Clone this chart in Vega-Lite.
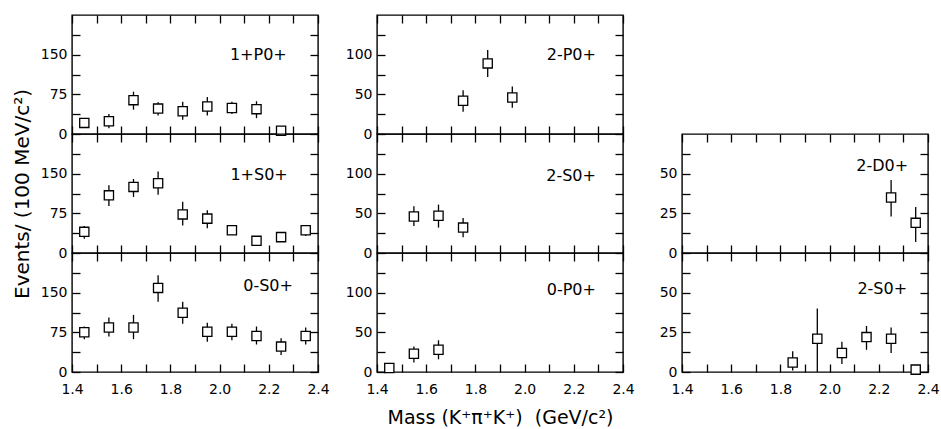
{
  "$schema": "https://vega.github.io/schema/vega-lite/v6.json",
  "padding": {"left": 11, "top": 13, "right": 5, "bottom": 3},
  "background": "white",
  "datasets": {
    "pts": [
      {"col": 1, "wave": "1+P0+", "mass": 1.45, "events": 21, "lo": 15, "hi": 27},
      {"col": 1, "wave": "1+P0+", "mass": 1.55, "events": 24, "lo": 11, "hi": 38},
      {"col": 1, "wave": "1+P0+", "mass": 1.65, "events": 64, "lo": 46, "hi": 80},
      {"col": 1, "wave": "1+P0+", "mass": 1.75, "events": 48, "lo": 35, "hi": 60},
      {"col": 1, "wave": "1+P0+", "mass": 1.85, "events": 43, "lo": 27, "hi": 61},
      {"col": 1, "wave": "1+P0+", "mass": 1.95, "events": 52, "lo": 35, "hi": 70},
      {"col": 1, "wave": "1+P0+", "mass": 2.05, "events": 49, "lo": 38, "hi": 61},
      {"col": 1, "wave": "1+P0+", "mass": 2.15, "events": 47, "lo": 30, "hi": 62},
      {"col": 1, "wave": "1+P0+", "mass": 2.25, "events": 6, "lo": 2, "hi": 10},
      {"col": 1, "wave": "1+S0+", "mass": 1.45, "events": 40, "lo": 27, "hi": 51},
      {"col": 1, "wave": "1+S0+", "mass": 1.55, "events": 109, "lo": 89, "hi": 128},
      {"col": 1, "wave": "1+S0+", "mass": 1.65, "events": 125, "lo": 106, "hi": 140},
      {"col": 1, "wave": "1+S0+", "mass": 1.75, "events": 132, "lo": 110, "hi": 154},
      {"col": 1, "wave": "1+S0+", "mass": 1.85, "events": 73, "lo": 52, "hi": 97},
      {"col": 1, "wave": "1+S0+", "mass": 1.95, "events": 65, "lo": 47, "hi": 81},
      {"col": 1, "wave": "1+S0+", "mass": 2.05, "events": 43, "lo": 35, "hi": 51},
      {"col": 1, "wave": "1+S0+", "mass": 2.15, "events": 23, "lo": 17, "hi": 29},
      {"col": 1, "wave": "1+S0+", "mass": 2.25, "events": 30, "lo": 23, "hi": 37},
      {"col": 1, "wave": "1+S0+", "mass": 2.35, "events": 43, "lo": 32, "hi": 53},
      {"col": 1, "wave": "0-S0+", "mass": 1.45, "events": 75, "lo": 62, "hi": 86},
      {"col": 1, "wave": "0-S0+", "mass": 1.55, "events": 84, "lo": 67, "hi": 103},
      {"col": 1, "wave": "0-S0+", "mass": 1.65, "events": 84, "lo": 62, "hi": 108},
      {"col": 1, "wave": "0-S0+", "mass": 1.75, "events": 159, "lo": 133, "hi": 183},
      {"col": 1, "wave": "0-S0+", "mass": 1.85, "events": 112, "lo": 91, "hi": 133},
      {"col": 1, "wave": "0-S0+", "mass": 1.95, "events": 76, "lo": 57, "hi": 93},
      {"col": 1, "wave": "0-S0+", "mass": 2.05, "events": 76, "lo": 60, "hi": 91},
      {"col": 1, "wave": "0-S0+", "mass": 2.15, "events": 68, "lo": 52, "hi": 86},
      {"col": 1, "wave": "0-S0+", "mass": 2.25, "events": 48, "lo": 32, "hi": 64},
      {"col": 1, "wave": "0-S0+", "mass": 2.35, "events": 68, "lo": 52, "hi": 84},
      {"col": 2, "wave": "2-P0+", "mass": 1.75, "events": 42, "lo": 28, "hi": 55},
      {"col": 2, "wave": "2-P0+", "mass": 1.85, "events": 89, "lo": 72, "hi": 106},
      {"col": 2, "wave": "2-P0+", "mass": 1.95, "events": 46, "lo": 33, "hi": 60},
      {"col": 2, "wave": "2-S0+", "mass": 1.55, "events": 46, "lo": 34, "hi": 59},
      {"col": 2, "wave": "2-S0+", "mass": 1.65, "events": 47, "lo": 32, "hi": 61},
      {"col": 2, "wave": "2-S0+", "mass": 1.75, "events": 32, "lo": 20, "hi": 44},
      {"col": 2, "wave": "0-P0+", "mass": 1.45, "events": 5, "lo": 1, "hi": 9},
      {"col": 2, "wave": "0-P0+", "mass": 1.55, "events": 23, "lo": 12, "hi": 32},
      {"col": 2, "wave": "0-P0+", "mass": 1.65, "events": 28, "lo": 16, "hi": 40},
      {"col": 3, "wave": "2-D0+", "mass": 2.25, "events": 35, "lo": 23, "hi": 46},
      {"col": 3, "wave": "2-D0+", "mass": 2.35, "events": 19, "lo": 7, "hi": 29},
      {"col": 3, "wave": "2-S0+", "mass": 1.85, "events": 6, "lo": 1, "hi": 13},
      {"col": 3, "wave": "2-S0+", "mass": 1.95, "events": 21, "lo": 0, "hi": 40},
      {"col": 3, "wave": "2-S0+", "mass": 2.05, "events": 12, "lo": 5, "hi": 19},
      {"col": 3, "wave": "2-S0+", "mass": 2.15, "events": 22, "lo": 14, "hi": 29},
      {"col": 3, "wave": "2-S0+", "mass": 2.25, "events": 21, "lo": 12, "hi": 28},
      {"col": 3, "wave": "2-S0+", "mass": 2.35, "events": 1.5, "lo": 0, "hi": 3}
    ]
  },
  "config": {
    "font": "DejaVu Sans",
    "view": {"stroke": "black", "strokeWidth": 1.4},
    "axis": {
      "domain": false, "grid": false, "tickColor": "black", "tickWidth": 1.3,
      "tickSize": -8, "labelColor": "black", "labelFontSize": 14, "labelFont": "DejaVu Sans", "labelFlush": false,
      "titleColor": "black", "titleFont": "DejaVu Sans", "titleFontWeight": "normal"
    },
    "text": {"font": "DejaVu Sans", "fontSize": 16, "color": "black", "align": "right", "baseline": "middle"}
  },
  "columns": 3,
  "spacing": {"row": 0, "column": 59},
  "bounds": "flush",
  "concat": [
    {
      "width": 246, "height": 119,
      "data": {"name": "pts"},
      "transform": [{"filter": "datum.col == 1 && datum.wave == '1+P0+'"}],
      "layer": [
        {"mark": {"type": "rule", "color": "black", "strokeWidth": 1.3},
         "encoding": {
           "x": {"field": "mass", "type": "quantitative", "scale": {"domain": [1.4, 2.4], "nice": false, "zero": false},
                 "axis": {"orient": "bottom", "values": [1.4,1.5,1.6,1.7,1.8,1.9,2.0,2.1,2.2,2.3,2.4], "labels": false, "title": null}},
           "y": {"field": "lo", "type": "quantitative", "scale": {"domain": [0, 225], "nice": false},
                 "axis": {"orient": "left", "values": [0,37.5,75,112.5,150,187.5], "labelExpr": "datum.value % 75 == 0 ? datum.label : ''", "labelPadding": 13, "title": null}},
           "y2": {"field": "hi"}}},
        {"mark": {"type": "point", "shape": "square", "filled": true, "fill": "white", "stroke": "black", "strokeWidth": 1.3, "size": 85, "opacity": 1},
         "encoding": {
           "x": {"field": "mass", "type": "quantitative", "axis": {"orient": "top", "values": [1.4,1.5,1.6,1.7,1.8,1.9,2.0,2.1,2.2,2.3,2.4], "labels": false, "title": null}},
           "y": {"field": "events", "type": "quantitative", "axis": {"orient": "right", "values": [0,37.5,75,112.5,150,187.5], "labels": false, "title": null}}}},
        {"transform": [{"aggregate": [], "groupby": ["wave"]}],
         "mark": {"type": "text"},
         "encoding": {"text": {"field": "wave"}, "x": {"datum": 2.273, "type": "quantitative", "axis": null}, "y": {"datum": 149, "type": "quantitative", "axis": null}}}
      ],
      "resolve": {"axis": {"x": "independent", "y": "independent"}}
    },
    {
      "width": 246, "height": 119,
      "data": {"name": "pts"},
      "transform": [{"filter": "datum.col == 2 && datum.wave == '2-P0+'"}],
      "layer": [
        {"mark": {"type": "rule", "color": "black", "strokeWidth": 1.3},
         "encoding": {
           "x": {"field": "mass", "type": "quantitative", "scale": {"domain": [1.4, 2.4], "nice": false, "zero": false},
                 "axis": {"orient": "bottom", "values": [1.4,1.5,1.6,1.7,1.8,1.9,2.0,2.1,2.2,2.3,2.4], "labels": false, "title": null}},
           "y": {"field": "lo", "type": "quantitative", "scale": {"domain": [0, 150], "nice": false},
                 "axis": {"orient": "left", "values": [0,25,50,75,100,125], "labelExpr": "datum.value % 50 == 0 ? datum.label : ''", "labelPadding": 13, "title": null}},
           "y2": {"field": "hi"}}},
        {"mark": {"type": "point", "shape": "square", "filled": true, "fill": "white", "stroke": "black", "strokeWidth": 1.3, "size": 85, "opacity": 1},
         "encoding": {
           "x": {"field": "mass", "type": "quantitative", "axis": {"orient": "top", "values": [1.4,1.5,1.6,1.7,1.8,1.9,2.0,2.1,2.2,2.3,2.4], "labels": false, "title": null}},
           "y": {"field": "events", "type": "quantitative", "axis": {"orient": "right", "values": [0,25,50,75,100,125], "labels": false, "title": null}}}},
        {"transform": [{"aggregate": [], "groupby": ["wave"]}],
         "mark": {"type": "text"},
         "encoding": {"text": {"field": "wave"}, "x": {"datum": 2.29, "type": "quantitative", "axis": null}, "y": {"datum": 100, "type": "quantitative", "axis": null}}}
      ],
      "resolve": {"axis": {"x": "independent", "y": "independent"}}
    },
    {
      "width": 246, "height": 119,
      "data": {"values": []},
      "mark": "point",
      "encoding": {},
      "view": {"stroke": null}
    },
    {
      "width": 246, "height": 119,
      "data": {"name": "pts"},
      "transform": [{"filter": "datum.col == 1 && datum.wave == '1+S0+'"}],
      "layer": [
        {"mark": {"type": "rule", "color": "black", "strokeWidth": 1.3},
         "encoding": {
           "x": {"field": "mass", "type": "quantitative", "scale": {"domain": [1.4, 2.4], "nice": false, "zero": false},
                 "axis": {"orient": "bottom", "values": [1.4,1.5,1.6,1.7,1.8,1.9,2.0,2.1,2.2,2.3,2.4], "labels": false, "title": null}},
           "y": {"field": "lo", "type": "quantitative", "scale": {"domain": [0, 225], "nice": false},
                 "axis": {"orient": "left", "values": [0,37.5,75,112.5,150,187.5], "labelExpr": "datum.value % 75 == 0 ? datum.label : ''", "labelPadding": 13,
                          "title": "Events/ (100 MeV/c²)", "titleFontSize": 20, "titlePadding": 8}},
           "y2": {"field": "hi"}}},
        {"mark": {"type": "point", "shape": "square", "filled": true, "fill": "white", "stroke": "black", "strokeWidth": 1.3, "size": 85, "opacity": 1},
         "encoding": {
           "x": {"field": "mass", "type": "quantitative", "axis": {"orient": "top", "values": [1.4,1.5,1.6,1.7,1.8,1.9,2.0,2.1,2.2,2.3,2.4], "labels": false, "title": null}},
           "y": {"field": "events", "type": "quantitative", "axis": {"orient": "right", "values": [0,37.5,75,112.5,150,187.5], "labels": false, "title": null}}}},
        {"transform": [{"aggregate": [], "groupby": ["wave"]}],
         "mark": {"type": "text"},
         "encoding": {"text": {"field": "wave"}, "x": {"datum": 2.277, "type": "quantitative", "axis": null}, "y": {"datum": 147, "type": "quantitative", "axis": null}}}
      ],
      "resolve": {"axis": {"x": "independent", "y": "independent"}}
    },
    {
      "width": 246, "height": 119,
      "data": {"name": "pts"},
      "transform": [{"filter": "datum.col == 2 && datum.wave == '2-S0+'"}],
      "layer": [
        {"mark": {"type": "rule", "color": "black", "strokeWidth": 1.3},
         "encoding": {
           "x": {"field": "mass", "type": "quantitative", "scale": {"domain": [1.4, 2.4], "nice": false, "zero": false},
                 "axis": {"orient": "bottom", "values": [1.4,1.5,1.6,1.7,1.8,1.9,2.0,2.1,2.2,2.3,2.4], "labels": false, "title": null}},
           "y": {"field": "lo", "type": "quantitative", "scale": {"domain": [0, 150], "nice": false},
                 "axis": {"orient": "left", "values": [0,25,50,75,100,125], "labelExpr": "datum.value % 50 == 0 ? datum.label : ''", "labelPadding": 13, "title": null}},
           "y2": {"field": "hi"}}},
        {"mark": {"type": "point", "shape": "square", "filled": true, "fill": "white", "stroke": "black", "strokeWidth": 1.3, "size": 85, "opacity": 1},
         "encoding": {
           "x": {"field": "mass", "type": "quantitative", "axis": {"orient": "top", "values": [1.4,1.5,1.6,1.7,1.8,1.9,2.0,2.1,2.2,2.3,2.4], "labels": false, "title": null}},
           "y": {"field": "events", "type": "quantitative", "axis": {"orient": "right", "values": [0,25,50,75,100,125], "labels": false, "title": null}}}},
        {"transform": [{"aggregate": [], "groupby": ["wave"]}],
         "mark": {"type": "text"},
         "encoding": {"text": {"field": "wave"}, "x": {"datum": 2.29, "type": "quantitative", "axis": null}, "y": {"datum": 97, "type": "quantitative", "axis": null}}}
      ],
      "resolve": {"axis": {"x": "independent", "y": "independent"}}
    },
    {
      "width": 246, "height": 119,
      "data": {"name": "pts"},
      "transform": [{"filter": "datum.col == 3 && datum.wave == '2-D0+'"}],
      "layer": [
        {"mark": {"type": "rule", "color": "black", "strokeWidth": 1.3},
         "encoding": {
           "x": {"field": "mass", "type": "quantitative", "scale": {"domain": [1.4, 2.4], "nice": false, "zero": false},
                 "axis": {"orient": "bottom", "values": [1.4,1.5,1.6,1.7,1.8,1.9,2.0,2.1,2.2,2.3,2.4], "labels": false, "title": null}},
           "y": {"field": "lo", "type": "quantitative", "scale": {"domain": [0, 75], "nice": false},
                 "axis": {"orient": "left", "values": [0,12.5,25,37.5,50,62.5], "labelExpr": "datum.value % 25 == 0 ? datum.label : ''", "labelPadding": 13, "title": null}},
           "y2": {"field": "hi"}}},
        {"mark": {"type": "point", "shape": "square", "filled": true, "fill": "white", "stroke": "black", "strokeWidth": 1.3, "size": 85, "opacity": 1},
         "encoding": {
           "x": {"field": "mass", "type": "quantitative", "axis": {"orient": "top", "values": [1.4,1.5,1.6,1.7,1.8,1.9,2.0,2.1,2.2,2.3,2.4], "labels": false, "title": null}},
           "y": {"field": "events", "type": "quantitative", "axis": {"orient": "right", "values": [0,12.5,25,37.5,50,62.5], "labels": false, "title": null}}}},
        {"transform": [{"aggregate": [], "groupby": ["wave"]}],
         "mark": {"type": "text"},
         "encoding": {"text": {"field": "wave"}, "x": {"datum": 2.319, "type": "quantitative", "axis": null}, "y": {"datum": 55, "type": "quantitative", "axis": null}}}
      ],
      "resolve": {"axis": {"x": "independent", "y": "independent"}}
    },
    {
      "width": 246, "height": 119,
      "data": {"name": "pts"},
      "transform": [{"filter": "datum.col == 1 && datum.wave == '0-S0+'"}],
      "layer": [
        {"mark": {"type": "rule", "color": "black", "strokeWidth": 1.3},
         "encoding": {
           "x": {"field": "mass", "type": "quantitative", "scale": {"domain": [1.4, 2.4], "nice": false, "zero": false},
                 "axis": {"orient": "bottom", "values": [1.4,1.5,1.6,1.7,1.8,1.9,2.0,2.1,2.2,2.3,2.4], "labelExpr": "abs(round(datum.value*10)) % 2 == 0 ? format(datum.value, '.1f') : ''", "labelPadding": 18, "title": null}},
           "y": {"field": "lo", "type": "quantitative", "scale": {"domain": [0, 225], "nice": false},
                 "axis": {"orient": "left", "values": [0,37.5,75,112.5,150,187.5], "labelExpr": "datum.value % 75 == 0 ? datum.label : ''", "labelPadding": 13, "title": null}},
           "y2": {"field": "hi"}}},
        {"mark": {"type": "point", "shape": "square", "filled": true, "fill": "white", "stroke": "black", "strokeWidth": 1.3, "size": 85, "opacity": 1},
         "encoding": {
           "x": {"field": "mass", "type": "quantitative", "axis": {"orient": "top", "values": [1.4,1.5,1.6,1.7,1.8,1.9,2.0,2.1,2.2,2.3,2.4], "labels": false, "title": null}},
           "y": {"field": "events", "type": "quantitative", "axis": {"orient": "right", "values": [0,37.5,75,112.5,150,187.5], "labels": false, "title": null}}}},
        {"transform": [{"aggregate": [], "groupby": ["wave"]}],
         "mark": {"type": "text"},
         "encoding": {"text": {"field": "wave"}, "x": {"datum": 2.298, "type": "quantitative", "axis": null}, "y": {"datum": 163, "type": "quantitative", "axis": null}}}
      ],
      "resolve": {"axis": {"x": "independent", "y": "independent"}}
    },
    {
      "width": 246, "height": 119,
      "data": {"name": "pts"},
      "transform": [{"filter": "datum.col == 2 && datum.wave == '0-P0+'"}],
      "layer": [
        {"mark": {"type": "rule", "color": "black", "strokeWidth": 1.3},
         "encoding": {
           "x": {"field": "mass", "type": "quantitative", "scale": {"domain": [1.4, 2.4], "nice": false, "zero": false},
                 "axis": {"orient": "bottom", "values": [1.4,1.5,1.6,1.7,1.8,1.9,2.0,2.1,2.2,2.3,2.4], "labelExpr": "abs(round(datum.value*10)) % 2 == 0 ? format(datum.value, '.1f') : ''", "labelPadding": 18,
                          "title": "Mass (K⁺π⁺K⁺)\u00a0\u00a0(GeV/c²)", "titleFontSize": 19, "titlePadding": 12}},
           "y": {"field": "lo", "type": "quantitative", "scale": {"domain": [0, 150], "nice": false},
                 "axis": {"orient": "left", "values": [0,25,50,75,100,125], "labelExpr": "datum.value % 50 == 0 ? datum.label : ''", "labelPadding": 13, "title": null}},
           "y2": {"field": "hi"}}},
        {"mark": {"type": "point", "shape": "square", "filled": true, "fill": "white", "stroke": "black", "strokeWidth": 1.3, "size": 85, "opacity": 1},
         "encoding": {
           "x": {"field": "mass", "type": "quantitative", "axis": {"orient": "top", "values": [1.4,1.5,1.6,1.7,1.8,1.9,2.0,2.1,2.2,2.3,2.4], "labels": false, "title": null}},
           "y": {"field": "events", "type": "quantitative", "axis": {"orient": "right", "values": [0,25,50,75,100,125], "labels": false, "title": null}}}},
        {"transform": [{"aggregate": [], "groupby": ["wave"]}],
         "mark": {"type": "text"},
         "encoding": {"text": {"field": "wave"}, "x": {"datum": 2.29, "type": "quantitative", "axis": null}, "y": {"datum": 103, "type": "quantitative", "axis": null}}}
      ],
      "resolve": {"axis": {"x": "independent", "y": "independent"}}
    },
    {
      "width": 246, "height": 119,
      "data": {"name": "pts"},
      "transform": [{"filter": "datum.col == 3 && datum.wave == '2-S0+'"}],
      "layer": [
        {"mark": {"type": "rule", "color": "black", "strokeWidth": 1.3},
         "encoding": {
           "x": {"field": "mass", "type": "quantitative", "scale": {"domain": [1.4, 2.4], "nice": false, "zero": false},
                 "axis": {"orient": "bottom", "values": [1.4,1.5,1.6,1.7,1.8,1.9,2.0,2.1,2.2,2.3,2.4], "labelExpr": "abs(round(datum.value*10)) % 2 == 0 ? format(datum.value, '.1f') : ''", "labelPadding": 18, "title": null}},
           "y": {"field": "lo", "type": "quantitative", "scale": {"domain": [0, 75], "nice": false},
                 "axis": {"orient": "left", "values": [0,12.5,25,37.5,50,62.5], "labelExpr": "datum.value % 25 == 0 ? datum.label : ''", "labelPadding": 13, "title": null}},
           "y2": {"field": "hi"}}},
        {"mark": {"type": "point", "shape": "square", "filled": true, "fill": "white", "stroke": "black", "strokeWidth": 1.3, "size": 85, "opacity": 1},
         "encoding": {
           "x": {"field": "mass", "type": "quantitative", "axis": {"orient": "top", "values": [1.4,1.5,1.6,1.7,1.8,1.9,2.0,2.1,2.2,2.3,2.4], "labels": false, "title": null}},
           "y": {"field": "events", "type": "quantitative", "axis": {"orient": "right", "values": [0,12.5,25,37.5,50,62.5], "labels": false, "title": null}}}},
        {"transform": [{"aggregate": [], "groupby": ["wave"]}],
         "mark": {"type": "text"},
         "encoding": {"text": {"field": "wave"}, "x": {"datum": 2.315, "type": "quantitative", "axis": null}, "y": {"datum": 52, "type": "quantitative", "axis": null}}}
      ],
      "resolve": {"axis": {"x": "independent", "y": "independent"}}
    }
  ]
}
